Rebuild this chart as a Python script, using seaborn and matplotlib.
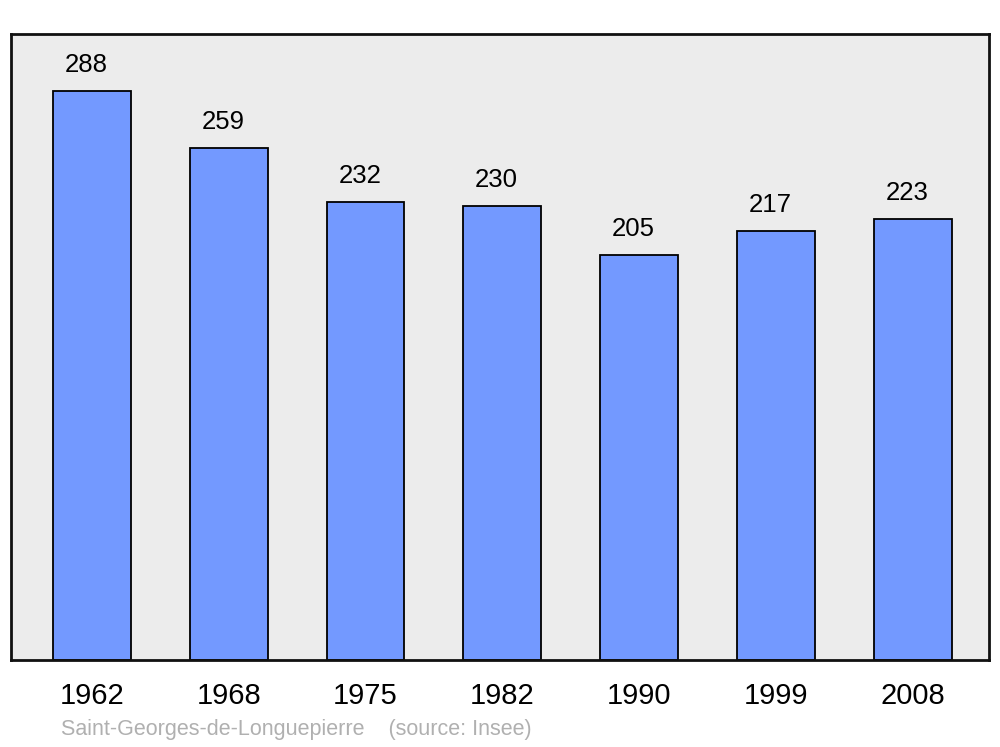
import matplotlib
matplotlib.use("Agg")
import matplotlib.pyplot as plt
import seaborn as sns
import pandas as pd

# ------------------ Data ------------------
years = ["1962", "1968", "1975", "1982", "1990", "1999", "2008"]
population = [288, 259, 232, 230, 205, 217, 223]
commune = "Saint-Georges-de-Longuepierre"
source = "(source: Insee)"

df = pd.DataFrame({"year": years, "pop": population})

# ------------------ Style ------------------
sns.set_theme(style="white")
plt.rcParams["font.family"] = ["Liberation Sans", "DejaVu Sans"]

fig = plt.figure(figsize=(10, 7.47), dpi=100)
ax = fig.add_axes([0.011, 0.1165, 0.978, 0.838])
ax.set_facecolor("#ececec")

sns.barplot(data=df, x="year", y="pop", color="#7399ff", saturation=1,
            width=0.57, edgecolor="black", linewidth=1.3, ax=ax)

ax.set_xlim(-0.592, 6.559)
ax.set_ylim(0, max(population) * 1.1)

# value labels above bars
for bar, val in zip(ax.patches, population):
    ax.annotate(f"{val}", (bar.get_x() + bar.get_width() / 2, bar.get_height()),
                xytext=(-4, 10), textcoords="offset points",
                ha="center", va="bottom", fontsize=18.5, color="black")

ax.set_xlabel("")
ax.set_ylabel("")
ax.set_yticks([])
ax.tick_params(axis="x", length=0, pad=16, labelsize=21, labelcolor="black")
for s in ax.spines.values():
    s.set_visible(True)
    s.set_color("#111111")
    s.set_linewidth(2)

fig.text(0.061, 1 - 730 / 747, f"{commune}    {source}", fontsize=15.5,
         color="#b0b0b0", ha="left", va="center")

fig.savefig("out.png", dpi=100, facecolor="white")
